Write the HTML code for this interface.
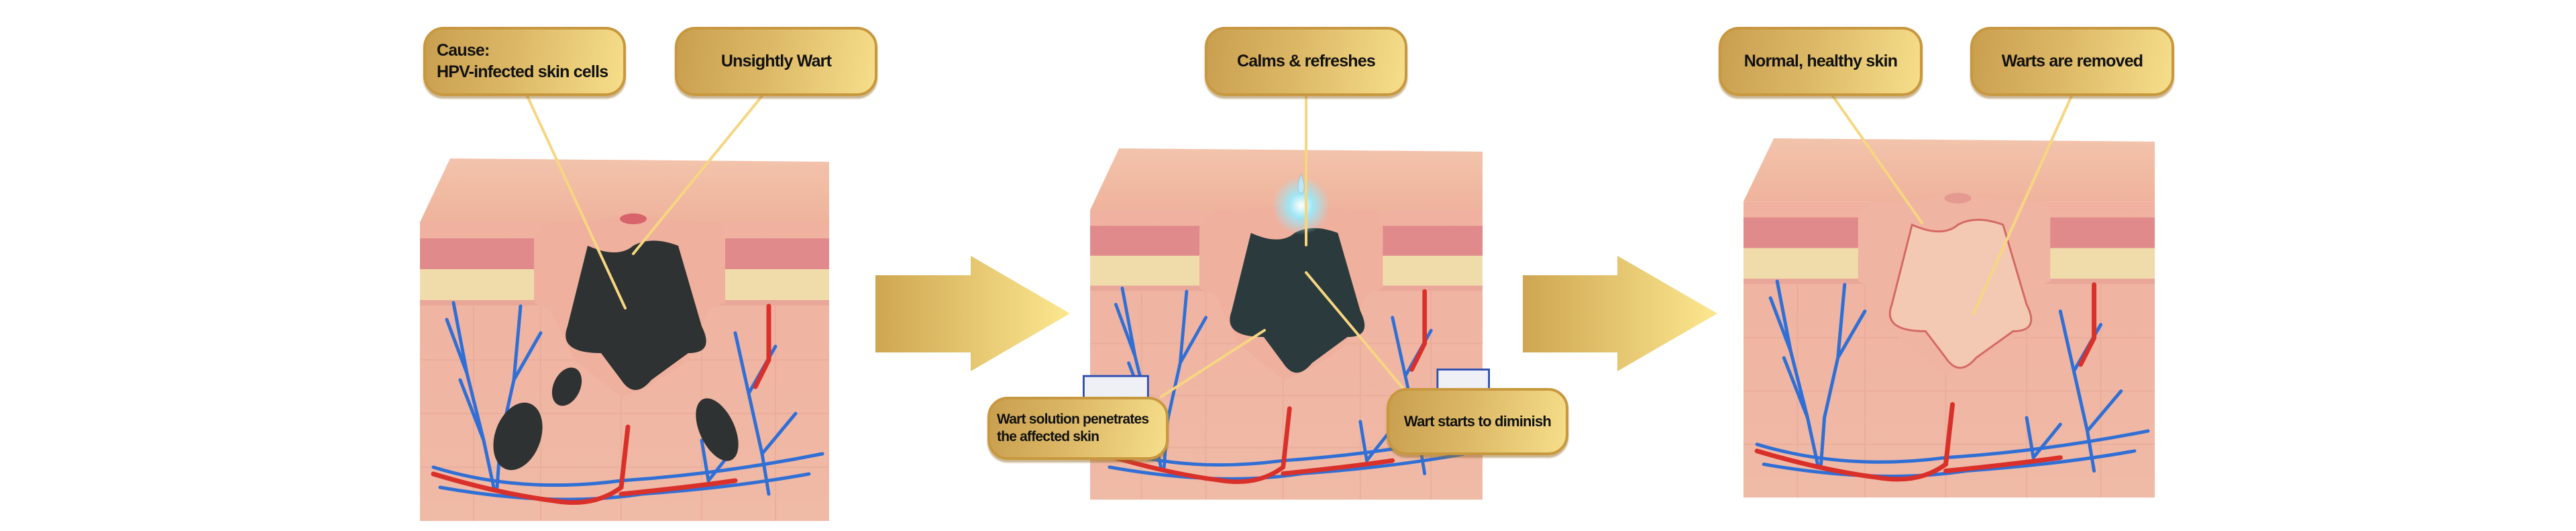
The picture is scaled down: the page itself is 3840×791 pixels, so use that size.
<!DOCTYPE html>
<html><head><meta charset="utf-8"><style>
html,body{margin:0;padding:0;background:#fff;}
body{width:3840px;height:791px;overflow:hidden;position:relative;font-family:"Liberation Sans",sans-serif;}
svg{position:absolute;left:0;top:0;}
.box{position:absolute;box-sizing:border-box;border-radius:30px;background:linear-gradient(100deg,#c99f4f 0%,#dcb866 45%,#f6de8a 100%);border:4px solid #c8983f;box-shadow:0 4px 2px rgba(150,110,40,.5);display:flex;align-items:center;justify-content:center;font-weight:bold;font-size:25px;color:#111;line-height:1.25;letter-spacing:-0.8px;white-space:nowrap;}
.l{justify-content:flex-start;padding-left:16px;}
</style></head><body>
<svg width="3840" height="791" viewBox="0 0 3840 791">
<defs>
<linearGradient id="ar" x1="0" x2="1"><stop offset="0" stop-color="#cfa652"/><stop offset="1" stop-color="#fce78f"/></linearGradient>
<linearGradient id="top" x1="0" y1="0" x2="0" y2="1"><stop offset="0" stop-color="#f3c3ab"/><stop offset="1" stop-color="#efb39c"/></linearGradient>
<linearGradient id="front" x1="0" y1="0" x2="0" y2="1"><stop offset="0" stop-color="#f1b1a0"/><stop offset="1" stop-color="#efbaa6"/></linearGradient>
<radialGradient id="glow"><stop offset="0" stop-color="#ffffff"/><stop offset=".4" stop-color="#9fe6f5"/><stop offset="1" stop-color="#9fe6f5" stop-opacity="0"/></radialGradient>
<g id="base">
<polygon points="45,0 610,5 610,95 0,95" fill="url(#top)"/>
<rect x="0" y="95" width="610" height="445" fill="url(#front)"/>
<rect x="0" y="119" width="610" height="50" fill="#e08a8c"/>
<rect x="0" y="165" width="610" height="50" fill="#efdcaa"/>
<rect x="0" y="211" width="610" height="8" fill="#e9a79a"/>
<g stroke="#e6a996" stroke-width="2" fill="none" opacity=".6">
<path d="M0,300 H610 M0,380 H610 M0,460 H610 M80,220 V540 M180,220 V540 M300,300 V540 M420,220 V540 M530,220 V540"/>
</g>
<g stroke="#2f6fd6" stroke-width="5" fill="none" stroke-linecap="round">
<path d="M50,215 L70,320 L95,420 L110,490"/>
<path d="M70,320 L40,240 M95,420 L60,330"/>
<path d="M150,220 L140,330 L120,420 L115,490 M140,330 L180,260"/>
<path d="M470,260 L490,350 L510,440 L520,500 M490,350 L530,280 M510,440 L560,380"/>
<path d="M420,420 L430,480 M430,480 L470,430"/>
<path d="M20,460 Q150,500 300,480 Q450,470 600,440"/>
<path d="M30,490 Q200,520 330,500 Q470,490 580,470"/>
</g>
<g stroke="#d9302a" stroke-width="7" fill="none" stroke-linecap="round">
<path d="M20,470 Q120,500 200,510 Q260,520 300,490 L310,400"/>
<path d="M300,500 Q400,490 470,480"/>
<path d="M520,220 L520,300 L500,340"/>
</g>
</g>
<path id="gap" d="M190,95 Q290,95 318,78 Q346,95 450,95 L455,119 L455,215 L430,225 L400,300 Q340,345 300,355 L230,300 L195,225 L170,215 L170,119 Z"/>
<path id="wart" d="M250,130 Q295,150 318,130 Q345,115 385,130 L420,250 Q440,290 400,290 L345,330 Q320,360 300,330 L270,290 Q205,290 220,250 Z"/>
</defs>

<!-- Panel 1 -->
<g transform="translate(626,236)">
<use href="#base"/>
<use href="#gap" fill="#efb09e"/>
<use href="#wart" fill="#2e3232"/>
<ellipse cx="219" cy="340" rx="20" ry="30" fill="#2e3232" transform="rotate(25 219 340)"/>
<ellipse cx="146" cy="414" rx="34" ry="52" fill="#2e3232" transform="rotate(20 146 414)"/>
<ellipse cx="443" cy="404" rx="26" ry="50" fill="#2e3232" transform="rotate(-25 443 404)"/>
<ellipse cx="318" cy="90" rx="20" ry="8" fill="#d8636a"/>
</g>
<!-- Panel 2 -->
<g transform="translate(1625,221) scale(0.959,0.969)">
<use href="#base"/>
<use href="#gap" fill="#efb09e"/>
<use href="#wart" fill="#2b3a3c"/>
<ellipse cx="85" cy="415" rx="20" ry="32" fill="#2e3232"/>
<rect x="-10" y="350" width="100" height="45" fill="#eef0f6" stroke="#2f4fb0" stroke-width="3"/>
<rect x="540" y="340" width="80" height="45" fill="#eef0f6" stroke="#2f4fb0" stroke-width="3"/>
<circle cx="328" cy="88" r="45" fill="url(#glow)"/>
<path d="M328,40 Q338,65 328,70 Q318,65 328,40Z" fill="#bfe6f2" stroke="#8fc6dc"/>
</g>
<!-- Panel 3 -->
<g transform="translate(2599,206) scale(1.005,0.991)">
<use href="#base"/>
<use href="#gap" fill="#f0b4a2"/>
<use href="#wart" fill="#f4c9b3" stroke="#d46a64" stroke-width="3"/>
<ellipse cx="318" cy="90" rx="20" ry="8" fill="#e49a90"/>
</g>

<!-- arrows -->
<polygon points="1305,410 1447,410 1447,381 1595,467 1447,553 1447,525 1305,525" fill="url(#ar)"/>
<polygon points="2270,410 2411,410 2411,381 2560,467 2411,553 2411,525 2270,525" fill="url(#ar)"/>

<!-- leader lines -->
<g stroke="#f7d681" stroke-width="4" stroke-linecap="round">
<line x1="786" y1="143" x2="932" y2="459"/>
<line x1="1136" y1="143" x2="944" y2="378"/>
<line x1="1947" y1="143" x2="1947" y2="365"/>
<line x1="1731" y1="591" x2="1885" y2="492"/>
<line x1="2092" y1="579" x2="1947" y2="406"/>
<line x1="2732" y1="143" x2="2865" y2="332"/>
<line x1="3088" y1="143" x2="2942" y2="467"/>
</g>
</svg>

<div class="box l" style="left:631px;top:40px;width:302px;height:103px;">Cause:<br>HPV-infected skin cells</div>
<div class="box" style="left:1006px;top:40px;width:302px;height:103px;">Unsightly Wart</div>
<div class="box" style="left:1796px;top:40px;width:302px;height:103px;">Calms &amp; refreshes</div>
<div class="box l" style="left:1472px;top:591px;width:270px;height:94px;font-size:21px;padding-left:10px;">Wart solution penetrates<br>the affected skin</div>
<div class="box" style="left:2067px;top:578px;width:271px;height:100px;font-size:22px;">Wart starts to diminish</div>
<div class="box" style="left:2562px;top:40px;width:304px;height:103px;">Normal, healthy skin</div>
<div class="box" style="left:2937px;top:40px;width:304px;height:103px;">Warts are removed</div>
</body></html>
